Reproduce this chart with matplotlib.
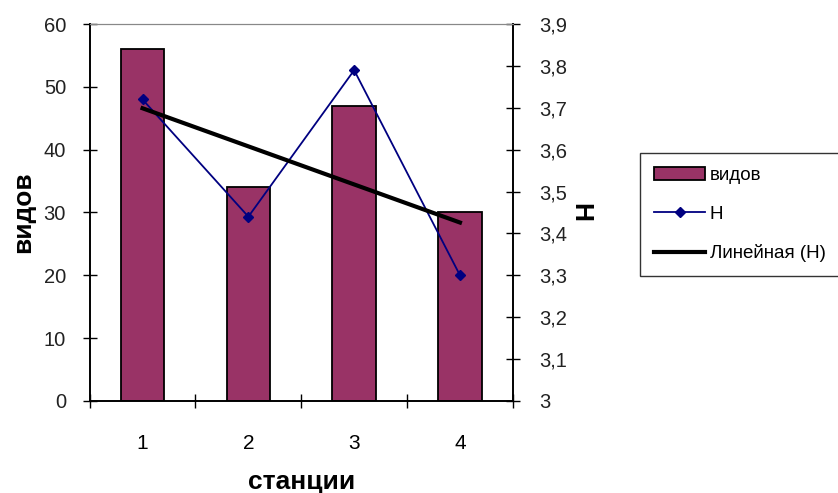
import numpy as np
import matplotlib.pyplot as plt
from matplotlib.ticker import FixedLocator, FuncFormatter

plt.rcParams['font.family'] = ['Liberation Sans', 'DejaVu Sans']

# данные
stations = ['1', '2', '3', '4']
species = [56, 34, 47, 30]
H = [3.72, 3.44, 3.79, 3.30]

x = np.arange(len(stations))
slope, icpt = np.polyfit(x, H, 1)
trend = slope * x + icpt

fig = plt.figure(figsize=(8.38, 4.93), dpi=100)
ax1 = fig.add_axes([0.107, 0.187, 0.505, 0.764])
ax2 = ax1.twinx()

b = ax1.bar(x, species, width=0.41, color='#993366', edgecolor='black', linewidth=1.3, label='видов')
l1, = ax2.plot(x, H, color='#000080', marker='D', markersize=5, linewidth=1.3, label='Н')
l2, = ax2.plot(x, trend, color='black', linewidth=3, label='Линейная (Н)')

ax1.set_xlim(-0.5, 3.5)
ax1.set_ylim(0, 60)
ax1.set_yticks(range(0, 61, 10))
ax2.set_ylim(3, 3.9)
ax2.set_yticks(np.arange(3, 3.91, 0.1))
ax2.yaxis.set_major_formatter(FuncFormatter(lambda v, p: f'{v:.1f}'.replace('.', ',').replace(',0', '')))

ax1.set_xticks(x)
ax1.set_xticklabels(stations)
ax1.xaxis.set_minor_locator(FixedLocator(np.arange(-0.5, 3.6, 1)))
ax1.tick_params(axis='x', which='major', length=0, pad=24, labelsize=15)
ax1.tick_params(axis='x', which='minor', direction='inout', length=10, width=1)
ax1.tick_params(axis='y', direction='inout', length=10, width=1, labelsize=14.5, pad=12, labelcolor='#222222')
ax2.tick_params(axis='y', direction='inout', length=10, width=1, labelsize=14.5, pad=14, labelcolor='#222222')

for a in (ax1, ax2):
    a.spines['top'].set_color('#888888')
    a.spines['left'].set_linewidth(1.2)
    a.spines['right'].set_linewidth(1.2)
    a.spines['bottom'].set_linewidth(1.2)

ax1.set_ylabel('видов', fontsize=19, fontweight='bold', labelpad=6)
ax1.set_xlabel('станции', fontsize=19, fontweight='bold', labelpad=12)
ax2.set_ylabel('Н', fontsize=19, fontweight='bold', rotation=270, labelpad=18)

leg = fig.legend(handles=[b, l1, l2], loc='upper left', bbox_to_anchor=(0.764, 0.690),
                 borderaxespad=0, fontsize=13.5, frameon=True, fancybox=False, edgecolor='black',
                 handlelength=2.7, handletextpad=0.25, labelspacing=1.15, borderpad=0.75)
leg.get_frame().set_linewidth(1)

plt.savefig('out.png')
